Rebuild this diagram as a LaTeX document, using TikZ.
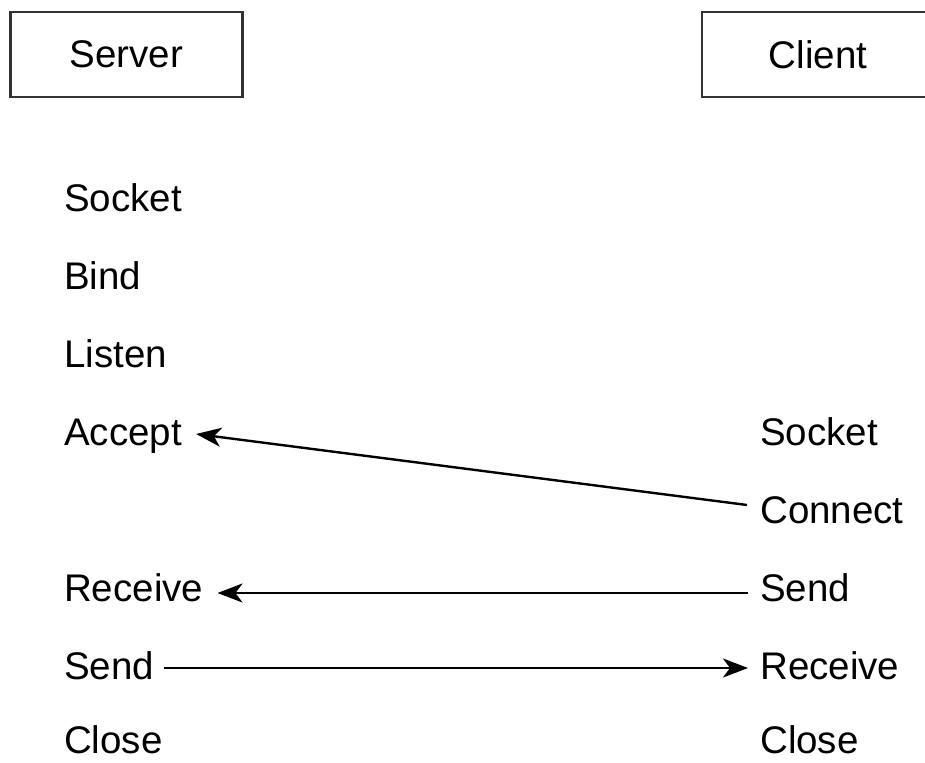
\documentclass[tikz,border=0pt]{standalone}
\usepackage{fontspec}
\setmainfont{Liberation Sans}
\usetikzlibrary{arrows.meta,calc}
\begin{document}
\begin{tikzpicture}[x=1pt,y=-1pt,
  lbl/.style={anchor=base west,inner sep=0pt,font=\fontsize{38.5}{40}\selectfont,text=black},
  hdr/.style={draw=black!80,line width=2.5pt,minimum width=232pt,minimum height=85pt,inner sep=0pt,font=\fontsize{38.5}{40}\selectfont},
  msg/.style={line width=2.4pt,draw=black,-{Stealth[length=25pt,width=19pt,inset=7pt]}}]
\clip (0,0) rectangle (925,762);
\fill[white] (0,0) rectangle (925,762);
\node[hdr] (server) at (126.5,54.5) {Server};
\node[hdr] (client) at (818,54.5) {Client};
% server column
\node[lbl] (ssocket) at (64,211) {Socket};
\node[lbl] (sbind) at (64,289) {Bind};
\node[lbl] (slisten) at (64,367) {Listen};
\node[lbl] (saccept) at (64,445) {Accept};
\node[lbl] (sreceive) at (64,601) {Receive};
\node[lbl] (ssend) at (64,679) {Send};
\node[lbl] (sclose) at (64,753) {Close};
% client column
\node[lbl] (csocket) at (760,445) {Socket};
\node[lbl] (cconnect) at (760,523) {Connect};
\node[lbl] (csend) at (760,601) {Send};
\node[lbl] (creceive) at (760,679) {Receive};
\node[lbl] (cclose) at (760,753) {Close};
% messages
\draw[msg] ([xshift=-13pt,yshift=18pt]cconnect.base west) -- ([xshift=14pt,yshift=11pt]saccept.base east);
\draw[msg] ([xshift=-12pt,yshift=8pt]csend.base west) -- ([xshift=14pt,yshift=8pt]sreceive.base east);
\draw[msg] ([xshift=10pt,yshift=11pt]ssend.base east) -- ([xshift=-12pt,yshift=11pt]creceive.base west);
\end{tikzpicture}
\end{document}
